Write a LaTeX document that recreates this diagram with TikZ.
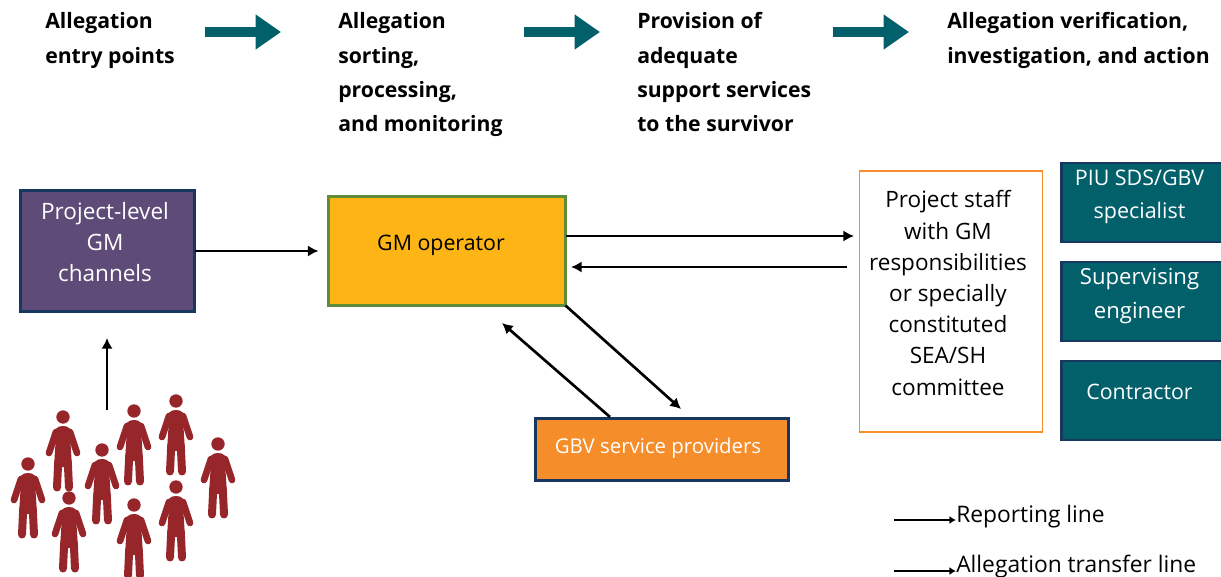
\documentclass[tikz,border=0pt]{standalone}
\usepackage{fontspec}
\setmainfont{Open Sans}
\usetikzlibrary{arrows.meta}

\definecolor{gmteal}{HTML}{02606B}
\definecolor{gmnavy}{HTML}{17375E}
\definecolor{gmpurple}{HTML}{5F4B78}
\definecolor{gmyellow}{HTML}{FDB515}
\definecolor{gmgreen}{HTML}{5E8C3A}
\definecolor{gmorange}{HTML}{F68D2B}
\definecolor{gmred}{HTML}{96262A}

\newlength{\pxu}
\setlength{\pxu}{0.75pt}

\tikzstyle{gmbox} = [draw=gmnavy, line width=2pt, rectangle, inner sep=0pt, outer sep=0pt, anchor=north west]
\tikzstyle{tealbox} = [gmbox, fill=gmteal, minimum width=170\pxu, minimum height=79\pxu]
\tikzstyle{boxtext} = [align=center, font=\fontsize{16.6}{23.4}\selectfont, inner sep=0pt]
\tikzstyle{steptitle} = [align=left, anchor=north west, inner sep=0pt, font=\fontsize{15.9}{25.7}\selectfont\bfseries]
\tikzstyle{legendtext} = [anchor=west, inner sep=0pt, font=\fontsize{17.1}{20}\selectfont]
\tikzstyle{flow} = [draw=black, line width=2pt, -{Latex[length=8pt,width=8.5pt]}]
\tikzstyle{bigarrow} = [draw=gmteal, line width=7.5pt, -{Triangle[length=19pt,width=25pt]}]

\tikzset{person/.pic={
	\fill[gmred] (0,0) circle (6.7);
	\fill[gmred] (0,9) .. controls (-6,9) and (-8.5,12) .. (-10,20) -- (-7.5,26) -- (-9,50) -- (9,50) -- (7.5,26) -- (10,20) .. controls (8.5,12) and (6,9) .. (0,9) -- cycle;
	\draw[gmred, line width=5pt, line cap=round] (-7,15) -- (-14,36);
	\draw[gmred, line width=5pt, line cap=round] (7,15) -- (14,36);
	\draw[gmred, line width=6pt, line cap=round] (-4.8,45) -- (-6,70.5);
	\draw[gmred, line width=6pt, line cap=round] (4.8,45) -- (6,70.5);
}}

\begin{document}
\begin{tikzpicture}[x=0.75pt, y=-0.75pt]
	\clip (0,0) rectangle (1221,577);

	\node[steptitle] (entry) at (45,12.5) {Allegation\\entry points};
	\node[steptitle] (sorting) at (338,12.5) {Allegation\\sorting,\\processing,\\and monitoring};
	\node[steptitle] (support) at (637,12.5) {Provision of\\adequate\\support services\\to the survivor};
	\node[steptitle] (verify) at (947,12.5) {Allegation verification,\\investigation, and action};

	\foreach \x in {205,524,833}
		\draw[bigarrow] (\x,32) -- ++(76,0);

	\node[gmbox, fill=gmpurple, minimum width=174\pxu, minimum height=121\pxu] (channels) at (20.5,190.5) {};
	\node[boxtext, text=white, font=\fontsize{16.9}{23.2}\selectfont] (channelstext) at (105,242) {Project-level\\GM\\channels};

	\node[gmbox, draw=gmgreen, fill=gmyellow, minimum width=237\pxu, minimum height=109\pxu] (operator) at (328.5,196.5) {};
	\node[boxtext, font=\fontsize{16}{20}\selectfont] (operatortext) at (441,245) {GM operator};

	\node[gmbox, fill=gmorange, minimum width=253\pxu, minimum height=62\pxu] (providers) at (535.5,418.5) {};
	\node[boxtext, text=white, font=\fontsize{15.3}{20}\selectfont] (providerstext) at (658,448) {GBV service providers};

	\node[gmbox, draw=gmorange, line width=0.8pt, fill=white, minimum width=183\pxu, minimum height=261\pxu] (staff) at (859.5,171) {};
	\node[boxtext, font=\fontsize{16.9}{23.4}\selectfont] (stafftext) at (948,293) {Project staff\\with GM\\responsibilities\\or specially\\constituted\\SEA/SH\\committee};

	\node[tealbox] (piu) at (1061.5,163) {};
	\node[boxtext, text=white, font=\fontsize{16.1}{24.8}\selectfont] (piutext) at (1139.5,196.5) {PIU SDS/GBV\\specialist};
	\node[tealbox] (engineer) at (1061.5,262) {};
	\node[boxtext, text=white, font=\fontsize{16.6}{25.2}\selectfont] (engineertext) at (1139.5,296) {Supervising\\engineer};
	\node[tealbox] (contractor) at (1061.5,361) {};
	\node[boxtext, text=white, font=\fontsize{16}{20}\selectfont] (contractortext) at (1139.5,392) {Contractor};

	\coordinate (tostaff) at (854,236);
	\coordinate (fromstaff) at (847,267);
	\coordinate (tooperator) at (571,267);
	\coordinate (toproviders) at (681,409);
	\coordinate (backfrom) at (610,417);
	\coordinate (backto) at (502,323);
	\coordinate (crowd) at (107,410);
	\coordinate (crowdtop) at (107,338);

	\draw[flow, shorten >=7.5pt] (channels) -- (operator);
	\draw[flow] (operator.east |- tostaff) -- (tostaff);
	\draw[flow] (fromstaff) -- (tooperator);
	\draw[flow] (operator.south east) -- (toproviders);
	\draw[flow] (backfrom) -- (backto);
	\draw[flow] (crowd) -- (crowdtop);

	\foreach \px/\py in {28/464,63/417,102/450,134/411,176/401,218/444,69/498,134/505,176/487}
		\pic at (\px,\py) {person};

	\node[legendtext] (reportlabel) at (956,516.5) {Reporting line};
	\node[legendtext] (transferlabel) at (956,566.5) {Allegation transfer line};
	\coordinate (reportstart) at (894,520);
	\coordinate (transferstart) at (894,571);
	\draw[flow, -{Latex[length=5pt,width=6pt]}] (reportstart) -- (reportstart -| reportlabel.west);
	\draw[flow, -{Latex[length=5pt,width=6pt]}] (transferstart) -- (transferstart -| transferlabel.west);
\end{tikzpicture}
\end{document}
